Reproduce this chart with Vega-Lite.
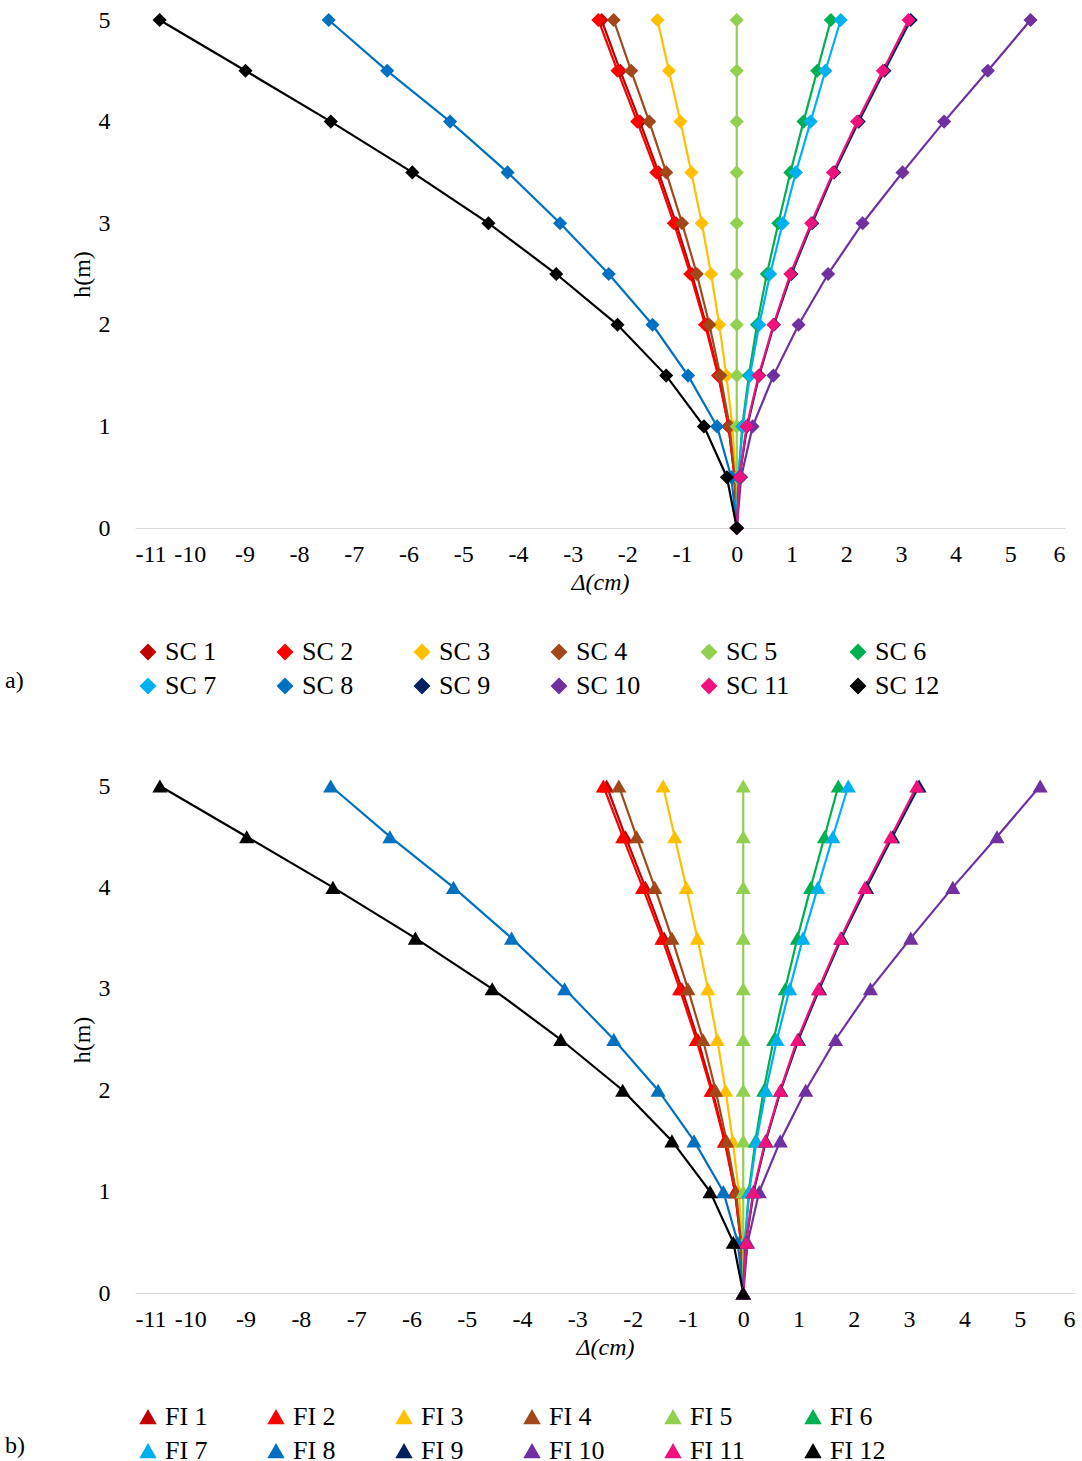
{
  "$schema": "https://vega.github.io/schema/vega-lite/v6.json",
  "padding": {"left": 5, "top": 8, "right": 5, "bottom": 5},
  "config": {
    "font": "Liberation Serif",
    "view": {"stroke": null},
    "axis": {"labelFontSize": 24, "titleFontSize": 24, "labelColor": "#000", "titleColor": "#000", "grid": false, "ticks": false, "titleFontWeight": "normal", "labelExpr": "replace(datum.label, '−', '-')"},
    "legend": {"labelFontSize": 26, "labelColor": "#000"}
  },
  "datasets": {
    "d": [
      {"n":1,"h":0,"d":0},{"n":1,"h":0.5,"d":-0.04},{"n":1,"h":1,"d":-0.15},{"n":1,"h":1.5,"d":-0.33},{"n":1,"h":2,"d":-0.56},{"n":1,"h":2.5,"d":-0.82},{"n":1,"h":3,"d":-1.11},{"n":1,"h":3.5,"d":-1.43},{"n":1,"h":4,"d":-1.77},{"n":1,"h":4.5,"d":-2.13},{"n":1,"h":5,"d":-2.47},
      {"n":2,"h":0,"d":0},{"n":2,"h":0.5,"d":-0.04},{"n":2,"h":1,"d":-0.15},{"n":2,"h":1.5,"d":-0.34},{"n":2,"h":2,"d":-0.58},{"n":2,"h":2.5,"d":-0.85},{"n":2,"h":3,"d":-1.15},{"n":2,"h":3.5,"d":-1.47},{"n":2,"h":4,"d":-1.82},{"n":2,"h":4.5,"d":-2.18},{"n":2,"h":5,"d":-2.53},
      {"n":3,"h":0,"d":0},{"n":3,"h":0.5,"d":-0.02},{"n":3,"h":1,"d":-0.08},{"n":3,"h":1.5,"d":-0.19},{"n":3,"h":2,"d":-0.32},{"n":3,"h":2.5,"d":-0.47},{"n":3,"h":3,"d":-0.64},{"n":3,"h":3.5,"d":-0.83},{"n":3,"h":4,"d":-1.03},{"n":3,"h":4.5,"d":-1.24},{"n":3,"h":5,"d":-1.45},
      {"n":4,"h":0,"d":0},{"n":4,"h":0.5,"d":-0.04},{"n":4,"h":1,"d":-0.13},{"n":4,"h":1.5,"d":-0.3},{"n":4,"h":2,"d":-0.5},{"n":4,"h":2.5,"d":-0.73},{"n":4,"h":3,"d":-1.0},{"n":4,"h":3.5,"d":-1.29},{"n":4,"h":4,"d":-1.6},{"n":4,"h":4.5,"d":-1.93},{"n":4,"h":5,"d":-2.25},
      {"n":5,"h":0,"d":0},{"n":5,"h":0.5,"d":0},{"n":5,"h":1,"d":0},{"n":5,"h":1.5,"d":0},{"n":5,"h":2,"d":0},{"n":5,"h":2.5,"d":0},{"n":5,"h":3,"d":0},{"n":5,"h":3.5,"d":0},{"n":5,"h":4,"d":0},{"n":5,"h":4.5,"d":0},{"n":5,"h":5,"d":0},
      {"n":6,"h":0,"d":0},{"n":6,"h":0.5,"d":0.03},{"n":6,"h":1,"d":0.1},{"n":6,"h":1.5,"d":0.22},{"n":6,"h":2,"d":0.37},{"n":6,"h":2.5,"d":0.55},{"n":6,"h":3,"d":0.76},{"n":6,"h":3.5,"d":0.98},{"n":6,"h":4,"d":1.22},{"n":6,"h":4.5,"d":1.47},{"n":6,"h":5,"d":1.72},
      {"n":7,"h":0,"d":0},{"n":7,"h":0.5,"d":0.03},{"n":7,"h":1,"d":0.11},{"n":7,"h":1.5,"d":0.24},{"n":7,"h":2,"d":0.41},{"n":7,"h":2.5,"d":0.61},{"n":7,"h":3,"d":0.84},{"n":7,"h":3.5,"d":1.08},{"n":7,"h":4,"d":1.35},{"n":7,"h":4.5,"d":1.62},{"n":7,"h":5,"d":1.9},
      {"n":8,"h":0,"d":0},{"n":8,"h":0.5,"d":-0.1},{"n":8,"h":1,"d":-0.36},{"n":8,"h":1.5,"d":-0.89},{"n":8,"h":2,"d":-1.54},{"n":8,"h":2.5,"d":-2.34},{"n":8,"h":3,"d":-3.23},{"n":8,"h":3.5,"d":-4.19},{"n":8,"h":4,"d":-5.24},{"n":8,"h":4.5,"d":-6.39},{"n":8,"h":5,"d":-7.46},
      {"n":9,"h":0,"d":0},{"n":9,"h":0.5,"d":0.05},{"n":9,"h":1,"d":0.19},{"n":9,"h":1.5,"d":0.41},{"n":9,"h":2,"d":0.68},{"n":9,"h":2.5,"d":1.0},{"n":9,"h":3,"d":1.38},{"n":9,"h":3.5,"d":1.78},{"n":9,"h":4,"d":2.23},{"n":9,"h":4.5,"d":2.7},{"n":9,"h":5,"d":3.18},
      {"n":10,"h":0,"d":0},{"n":10,"h":0.5,"d":0.08},{"n":10,"h":1,"d":0.29},{"n":10,"h":1.5,"d":0.67},{"n":10,"h":2,"d":1.13},{"n":10,"h":2.5,"d":1.67},{"n":10,"h":3,"d":2.3},{"n":10,"h":3.5,"d":3.03},{"n":10,"h":4,"d":3.79},{"n":10,"h":4.5,"d":4.59},{"n":10,"h":5,"d":5.37},
      {"n":11,"h":0,"d":0},{"n":11,"h":0.5,"d":0.05},{"n":11,"h":1,"d":0.18},{"n":11,"h":1.5,"d":0.4},{"n":11,"h":2,"d":0.67},{"n":11,"h":2.5,"d":0.98},{"n":11,"h":3,"d":1.36},{"n":11,"h":3.5,"d":1.76},{"n":11,"h":4,"d":2.2},{"n":11,"h":4.5,"d":2.67},{"n":11,"h":5,"d":3.14},
      {"n":12,"h":0,"d":0},{"n":12,"h":0.5,"d":-0.18},{"n":12,"h":1,"d":-0.6},{"n":12,"h":1.5,"d":-1.29},{"n":12,"h":2,"d":-2.18},{"n":12,"h":2.5,"d":-3.3},{"n":12,"h":3,"d":-4.54},{"n":12,"h":3.5,"d":-5.93},{"n":12,"h":4,"d":-7.42},{"n":12,"h":4.5,"d":-8.98},{"n":12,"h":5,"d":-10.55}
    ]
  },
  "spacing": 75,
  "vconcat": [
    {
      "width": 930, "height": 508,
      "data": {"name": "d"},
      "title": {"text": "a)", "orient": "bottom", "anchor": "start", "fontSize": 24, "fontWeight": "normal", "offset": -30, "dx": -65},
      "encoding": {
        "x": {"field": "d", "type": "quantitative", "scale": {"domain": [-11, 6], "nice": false}, "axis": {"values": [-11,-10,-9,-8,-7,-6,-5,-4,-3,-2,-1,0,1,2,3,4,5,6], "title": "Δ(cm)", "titleFontStyle": "italic", "domainColor": "#d9d9d9", "labelPadding": 14, "labelOverlap": false}},
        "y": {"field": "h", "type": "quantitative", "scale": {"domain": [0, 5]}, "axis": {"values": [0,1,2,3,4,5], "title": "h(m)", "domain": false, "labelPadding": 25}},
        "color": {"field": "n", "type": "ordinal", "scale": {"domain": [1,2,3,4,5,6,7,8,9,10,11,12], "range": ["#C00000","#FF0000","#FFC000","#A0481A","#92D050","#00B050","#00B0F0","#0070C0","#002060","#7030A0","#F0127C","#000000"]},
          "legend": {"orient": "bottom", "direction": "horizontal", "columns": 6, "title": null, "symbolType": "diamond", "symbolSize": 220, "labelExpr": "'SC ' + datum.label", "columnPadding": 55, "rowPadding": 8, "offset": 45}}
      },
      "layer": [
        {"mark": {"type": "line", "strokeWidth": 2.2}},
        {"mark": {"type": "point", "shape": "diamond", "filled": true, "opacity": 1, "size": 200}}
      ]
    },
    {
      "width": 940, "height": 507,
      "data": {"name": "d"},
      "title": {"text": "b)", "orient": "bottom", "anchor": "start", "fontSize": 24, "fontWeight": "normal", "offset": -30, "dx": -65},
      "encoding": {
        "x": {"field": "d", "type": "quantitative", "scale": {"domain": [-11, 6], "nice": false}, "axis": {"values": [-11,-10,-9,-8,-7,-6,-5,-4,-3,-2,-1,0,1,2,3,4,5,6], "title": "Δ(cm)", "titleFontStyle": "italic", "domainColor": "#d9d9d9", "labelPadding": 14, "labelOverlap": false}},
        "y": {"field": "h", "type": "quantitative", "scale": {"domain": [0, 5]}, "axis": {"values": [0,1,2,3,4,5], "title": "h(m)", "domain": false, "labelPadding": 25}},
        "color": {"field": "n", "type": "ordinal", "scale": {"domain": [1,2,3,4,5,6,7,8,9,10,11,12], "range": ["#C00000","#FF0000","#FFC000","#A0481A","#92D050","#00B050","#00B0F0","#0070C0","#002060","#7030A0","#F0127C","#000000"]},
          "legend": {"orient": "bottom", "direction": "horizontal", "columns": 6, "title": null, "symbolType": "triangle-up", "symbolSize": 220, "labelExpr": "'FI ' + datum.label", "columnPadding": 55, "rowPadding": 8, "offset": 45}}
      },
      "layer": [
        {"mark": {"type": "line", "strokeWidth": 2.2}},
        {"mark": {"type": "point", "shape": "triangle-up", "filled": true, "opacity": 1, "size": 230}}
      ]
    }
  ],
  "resolve": {"scale": {"color": "independent"}, "legend": {"color": "independent"}}
}
